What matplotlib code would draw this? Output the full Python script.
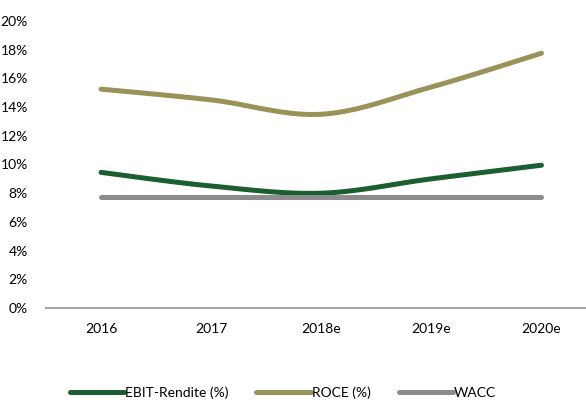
import numpy as np
import matplotlib
matplotlib.use("Agg")
import matplotlib.pyplot as plt
from matplotlib.ticker import FuncFormatter

categories = ["2016", "2017", "2018e", "2019e", "2020e"]
ebit = [9.45, 8.5, 8.0, 9.0, 9.95]
roce = [15.25, 14.5, 13.5, 15.4, 17.75]
wacc = [7.75, 7.75, 7.75, 7.75, 7.75]

plt.rcParams['font.family'] = ['Lato', 'DejaVu Sans']

def smooth(y, n=30):
    y = np.asarray(y, float)
    x = np.arange(len(y), dtype=float)
    P = np.vstack([x, y]).T
    P = np.vstack([P[0], P, P[-1]])
    out = []
    for i in range(1, len(P) - 2):
        p0, p1, p2, p3 = P[i-1], P[i], P[i+1], P[i+2]
        t = np.linspace(0, 1, n)[:, None]
        c1 = p1 + (p2 - p0) / 6
        c2 = p2 - (p3 - p1) / 6
        b = ((1-t)**3)*p1 + 3*((1-t)**2)*t*c1 + 3*(1-t)*t**2*c2 + t**3*p2
        out.append(b if i == 1 else b[1:])
    out = np.vstack(out)
    return out[:, 0], out[:, 1]

fig = plt.figure(figsize=(5.86, 4.03), dpi=100)
ax = fig.add_axes([0.0785, 0.2357, 0.93, 0.7123])

series = [(ebit, "#1b5e2f", "EBIT-Rendite (%)"),
          (roce, "#9a9258", "ROCE (%)"),
          (wacc, "#8c8c8c", "WACC")]
for vals, col, lab in series:
    xs, ys = smooth(vals)
    ax.plot(xs, ys, color=col, lw=3.6, solid_capstyle='round', label=lab)

ax.set_ylim(0, 20)
ax.set_yticks(np.arange(0, 21, 2))
ax.yaxis.set_major_formatter(FuncFormatter(lambda v, p: f"{v:.0f}%"))
ax.set_xlim(-0.5, 4.45)
ax.set_xticks(range(len(categories)))
ax.set_xticklabels(categories)
for s in ["top", "right", "left"]:
    ax.spines[s].set_visible(False)
ax.spines["bottom"].set_color("#a6a6a6")
ax.spines["bottom"].set_linewidth(1.5)
ax.tick_params(axis='y', length=0, pad=13, labelsize=10, colors='#000000')
ax.tick_params(axis='x', length=0, pad=11, labelsize=10, colors='#000000')

leg = fig.legend(loc='center', bbox_to_anchor=(0.483, 0.026), ncol=3, frameon=False,
                 fontsize=10, handlelength=3.9, columnspacing=2.0, handletextpad=0.1)

fig.savefig("out.png", dpi=100)
